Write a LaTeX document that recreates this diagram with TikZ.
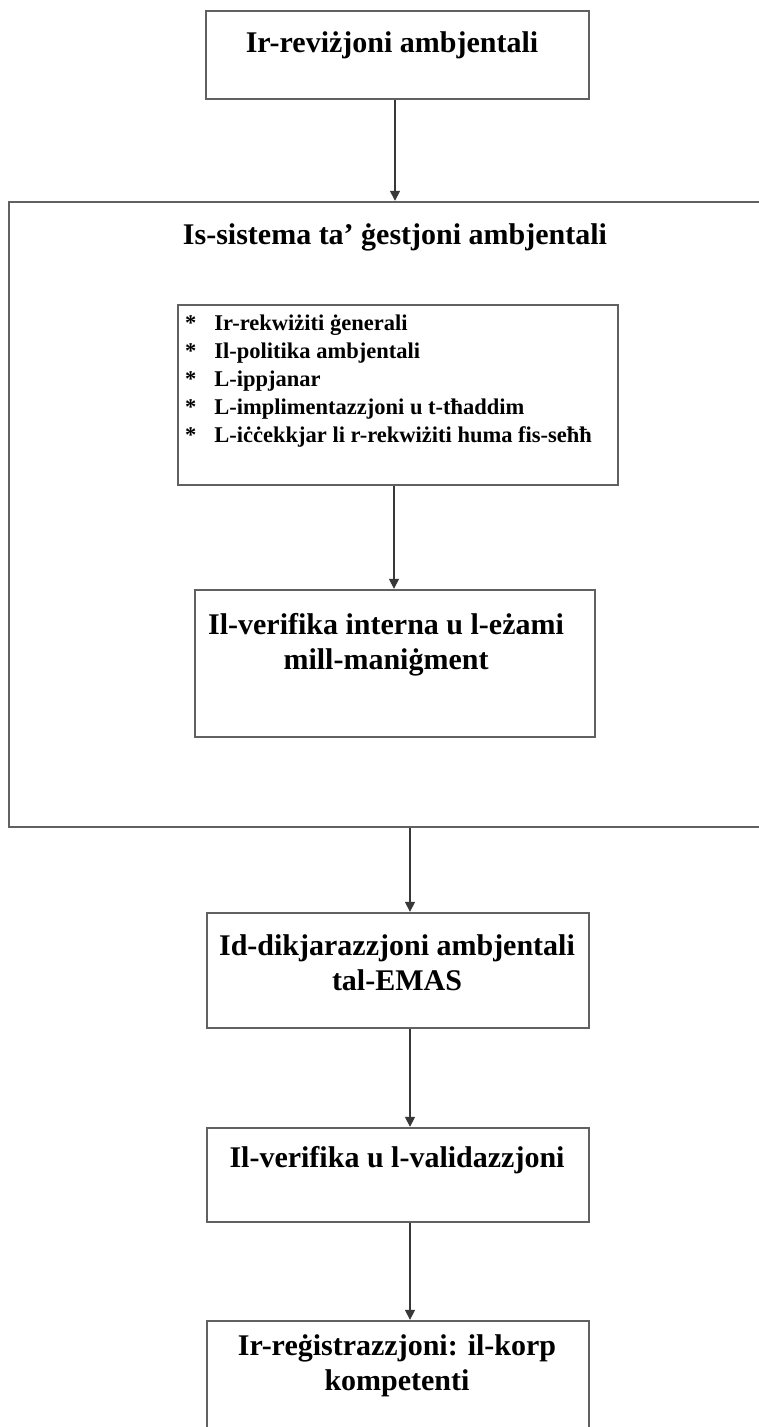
\documentclass[tikz,border=0pt]{standalone}
\usepackage{fontspec}
\setmainfont{Liberation Serif}
\usetikzlibrary{arrows.meta}
\tikzset{
  box/.style={draw=black!62, line width=2.4pt, rectangle, inner sep=0pt},
  head/.style={font=\fontsize{30}{35}\selectfont\bfseries, align=center, inner sep=0pt},
  item/.style={font=\fontsize{22.5}{28}\selectfont\bfseries, align=left, inner sep=0pt},
  arr/.style={draw=black!78, line width=1.6pt, -{Triangle[width=10pt,length=10pt]}}
}
\begin{document}
\begin{tikzpicture}[x=1pt,y=-1pt]
\clip (0,0) rectangle (759,1427);
\fill[white] (0,0) rectangle (759,1427);
% boxes
\node[box, minimum width=383pt, minimum height=88pt] (top) at (397.5,55) {};
\node[box, minimum width=771pt, minimum height=625pt] (big) at (394.5,514.5) {};
\node[box, minimum width=440pt, minimum height=180pt] (list) at (398,395) {};
\node[box, minimum width=400pt, minimum height=147pt] (verif) at (395,663.5) {};
\node[box, minimum width=382pt, minimum height=115pt] (decl) at (398,970.5) {};
\node[box, minimum width=382pt, minimum height=94pt] (valid) at (398,1175) {};
\node[box, minimum width=382pt, minimum height=118pt] (reg) at (398,1380) {};
% texts
\node[head] (ttop) at (392,45) {Ir-reviżjoni ambjentali};
\node[head] (tbig) at (395,237) {Is-sistema ta’ ġestjoni ambjentali};
\node[item, anchor=north west] (tlist) at (185,311) {%
\begin{tabular}{@{}l@{\hspace{18pt}}l@{}}
{*} & Ir-rekwiżiti ġenerali\\
{*} & Il-politika ambjentali\\
{*} & L-ippjanar\\
{*} & L-implimentazzjoni u t-tħaddim\\
{*} & L-iċċekkjar li r-rekwiżiti huma fis-seħħ
\end{tabular}};
\node[head] (tverif) at (386,645) {Il-verifika interna u l-eżami\\mill-maniġment};
\node[head] (tdecl) at (397,963) {Id-dikjarazzjoni ambjentali\\tal-EMAS};
\node[head] (tvalid) at (397,1160) {Il-verifika u l-validazzjoni};
\node[head] (treg) at (397,1366) {Ir-reġistrazzjoni: il-korp\\kompetenti};
% connectors
\draw[arr] ([xshift=-2.5pt]top.south) -- ([xshift=-2.5pt]top.south |- big.north);
\draw[arr] ([xshift=-4pt]list.south) -- ([xshift=-4pt]list.south |- verif.north);
\draw[arr] ([xshift=12pt]decl.north |- big.south) -- ([xshift=12pt]decl.north);
\draw[arr] ([xshift=12pt]decl.south) -- ([xshift=12pt]valid.north);
\draw[arr] ([xshift=12pt]valid.south) -- ([xshift=12pt]reg.north);
\end{tikzpicture}
\end{document}
